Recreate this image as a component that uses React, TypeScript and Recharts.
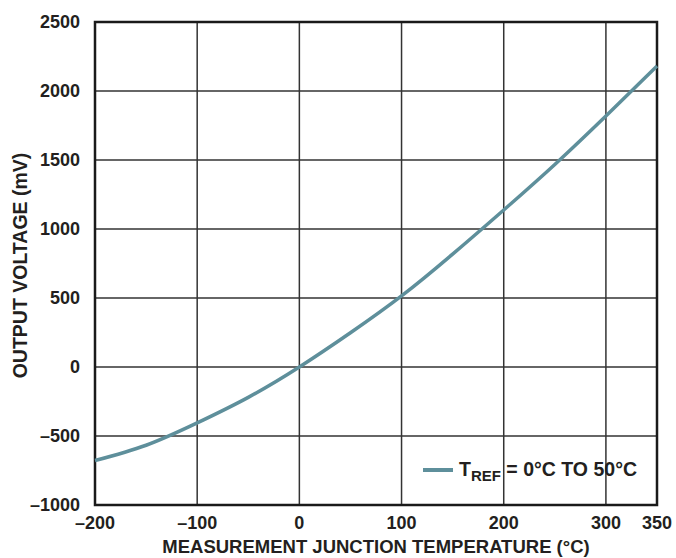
import React from "react";
import {
  LineChart,
  Line,
  XAxis,
  YAxis,
  CartesianGrid,
  ReferenceArea,
} from "recharts";

const temperatures = [-200, -150, -100, -50, 0, 50, 100, 150, 200, 250, 300, 350];
const voltages = [-678, -567, -405, -220, 0, 248, 515, 818, 1138, 1468, 1819, 2181];
const xTicks = [-200, -100, 0, 100, 200, 300, 350];
const yTicks = [-1000, -500, 0, 500, 1000, 1500, 2000, 2500];
const seriesName = "= 0°C TO 50°C";

const data = temperatures.map((t, i) => ({ t, v: voltages[i] }));

const FONT = '"Liberation Sans", Arial, Helvetica, sans-serif';
const TEXT = "#231f20";
const LINE = "#5e8f9b";

const fmt = (v: number) => (v < 0 ? "\u2013" + Math.abs(v) : String(v));

const YLabel = (props: any) => {
  const vb = props.viewBox || {};
  const cy = (vb.y ?? 22) + (vb.height ?? 483) / 2 + 2;
  const cx = 20;
  return (
    <text
      x={cx}
      y={cy}
      transform={`rotate(-90 ${cx} ${cy})`}
      textAnchor="middle"
      dominantBaseline="central"
      fill={TEXT}
      fontSize={19.5}
      fontWeight={700}
      fontFamily={FONT}
    >
      OUTPUT VOLTAGE (mV)
    </text>
  );
};

export default function App() {
  return (
    <div style={{ position: "absolute", left: 0, top: 0, width: 676, height: 558, background: "#fff" }}>
      <LineChart
        width={676}
        height={558}
        data={data}
        margin={{ top: 22, right: 19, bottom: 0, left: 0 }}
      >
        <CartesianGrid stroke="#333" strokeWidth={1.5} horizontalValues={yTicks} verticalValues={xTicks} />
        <XAxis
          dataKey="t"
          type="number"
          domain={[-200, 350]}
          ticks={xTicks}
          tickFormatter={fmt}
          tickLine={false}
          axisLine={false}
          tickMargin={5}
          height={53}
          interval={0}
          tick={{ fill: TEXT, fontSize: 18, fontWeight: 700, fontFamily: FONT }}
          label={{
            value: "MEASUREMENT JUNCTION TEMPERATURE (°C)",
            position: "insideBottom",
            offset: 5,
            fill: TEXT,
            fontSize: 18.5,
            fontWeight: 700,
            fontFamily: FONT,
          }}
        />
        <YAxis
          type="number"
          domain={[-1000, 2500]}
          ticks={yTicks}
          tickFormatter={fmt}
          tickLine={false}
          axisLine={false}
          tickMargin={9}
          width={95}
          interval={0}
          tick={{ fill: TEXT, fontSize: 18, fontWeight: 700, fontFamily: FONT }}
          label={<YLabel />}
        />
        <ReferenceArea
          x1={-200}
          x2={350}
          y1={-1000}
          y2={2500}
          fill="none"
          stroke="#1a1a1a"
          strokeWidth={2.5}
          ifOverflow="visible"
        />
        <Line
          type="natural"
          dataKey="v"
          stroke={LINE}
          strokeWidth={3.5}
          dot={false}
          isAnimationActive={false}
        />
      </LineChart>
      <div
        style={{
          position: "absolute",
          left: 423,
          top: 458,
          display: "flex",
          alignItems: "center",
          fontFamily: FONT,
          fontWeight: 700,
          fontSize: 19.5,
          color: TEXT,
          whiteSpace: "nowrap",
          lineHeight: "22px",
        }}
      >
        <span
          style={{
            display: "inline-block",
            width: 30,
            height: 3.5,
            background: LINE,
            marginRight: 6,
          }}
        />
        <span>
          T<span style={{ fontSize: 15, position: "relative", top: 5 }}>REF</span> {seriesName}
        </span>
      </div>
    </div>
  );
}
